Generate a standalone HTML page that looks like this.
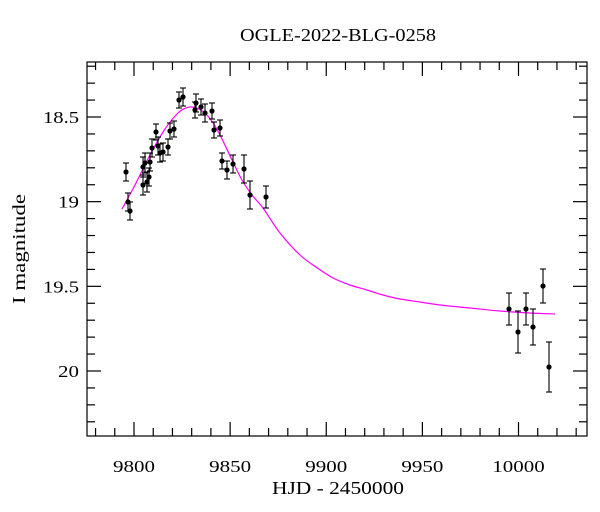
<!DOCTYPE html>
<html><head><meta charset="utf-8"><style>body{margin:0;background:#fff}svg{display:block}</style></head><body>
<svg id="s" width="600" height="512" xmlns="http://www.w3.org/2000/svg" font-family="Liberation Serif, serif">
<rect width="600" height="512" fill="#fff"/>
<text x="338" y="41" font-size="18" text-anchor="middle" textLength="196" lengthAdjust="spacingAndGlyphs">OGLE-2022-BLG-0258</text>
<text x="338" y="494" font-size="18" text-anchor="middle" textLength="132" lengthAdjust="spacingAndGlyphs">HJD - 2450000</text>
<text transform="translate(25,249) rotate(-90)" font-size="18" text-anchor="middle" textLength="110" lengthAdjust="spacingAndGlyphs">I magnitude</text>
<g id="ax" stroke="#000" stroke-width="1.2" fill="none"></g>
<g id="lab" font-size="17"></g>
<path id="cv" fill="none" stroke="#ff00ff" stroke-width="1.2"/>
<g id="pts" stroke="#000" stroke-width="1.1" fill="#000"></g>
</svg>
<script>
const ax=document.getElementById('ax'),lab=document.getElementById('lab'),pts=document.getElementById('pts');
const L=87,R=587,T=62,B=436;
let h=`<rect x="${L}" y="${T}" width="${R-L}" height="${B-T}"/>`;
const X=v=>134+(v-9800)*1.9225, Y=m=>117+(m-18.5)*169.33;
for(let v=9780;v<=10030;v+=10){const x=X(v),maj=v%50==0,l=maj?14:8;h+=`<line x1="${x}" y1="${B}" x2="${x}" y2="${B-l}"/><line x1="${x}" y1="${T}" x2="${x}" y2="${T+l}"/>`;
 if(maj&&v>=9800&&v<=10000){const s=String(v);lab.innerHTML+=`<text x="${x}" y="472" text-anchor="middle" textLength="${s.length*10.5}" lengthAdjust="spacingAndGlyphs">${s}</text>`;}}
for(let i=2;i<=23;i++){const m=18+i*0.1,y=Y(m);if(y<T||y>B)continue;const maj=i%5==0,l=maj?14:8;h+=`<line x1="${L}" y1="${y}" x2="${L+l}" y2="${y}"/><line x1="${R}" y1="${y}" x2="${R-l}" y2="${y}"/>`;
 if(maj){const s=(Math.round(m*10)/10).toString();const w=s.length==2?21:36;lab.innerHTML+=`<text x="79" y="${y+6}" text-anchor="end" textLength="${w}" lengthAdjust="spacingAndGlyphs">${s}</text>`;}}
ax.innerHTML=h;
const c=[[122,209],[135,185],[150,155],[165,129],[178,113],[186,108],[192,107],[199,109],[207,115],[215,126],[223,141],[232,160],[242,180],[252,195],[263,208],[280,233],[300,255],[316,267],[333,278],[350,285],[367,290],[383,295],[400,299],[420,302],[440,305],[470,308],[500,311],[530,313],[555,314]];
let pd=`M${c[0][0]},${c[0][1]}`;
for(let i=0;i<c.length-1;i++){const p0=c[Math.max(0,i-1)],p1=c[i],p2=c[i+1],p3=c[Math.min(c.length-1,i+2)];
pd+=` C${p1[0]+(p2[0]-p0[0])/6},${p1[1]+(p2[1]-p0[1])/6} ${p2[0]-(p3[0]-p1[0])/6},${p2[1]-(p3[1]-p1[1])/6} ${p2[0]},${p2[1]}`;}
document.getElementById('cv').setAttribute('d',pd);
const d=[[126,172,9],[128,202,9],[130,211,9],[143,167,10],[145,163,10],[143,185,10],[147,182,10],[149,177,9],[150,162,9],[152,148,9],[156,132,8],[158,146,9],[160,153,9],[163,152,9],[168,147,8],[170,131,8],[174,129,8],[179,100,8],[183,97,9],[195,110,8],[196,103,9],[201,107,8],[205,113,9],[212,111,8],[214,130,8],[220,128,8],[222,161,8],[227,170,9],[233,164,9],[244,169,14],[250,195,14],[266,197,11],[509,309,16],[518,332,21],[526,309,16],[533,327,18],[543,286,17],[549,367,25]];
let p='';for(const[x,y,e]of d){p+=`<line x1="${x}" y1="${y-e}" x2="${x}" y2="${y+e}"/><line x1="${x-3}" y1="${y-e}" x2="${x+3}" y2="${y-e}"/><line x1="${x-3}" y1="${y+e}" x2="${x+3}" y2="${y+e}"/><circle cx="${x}" cy="${y}" r="2.6" stroke="none"/>`;}
pts.innerHTML=p;
</script>
</body></html>
